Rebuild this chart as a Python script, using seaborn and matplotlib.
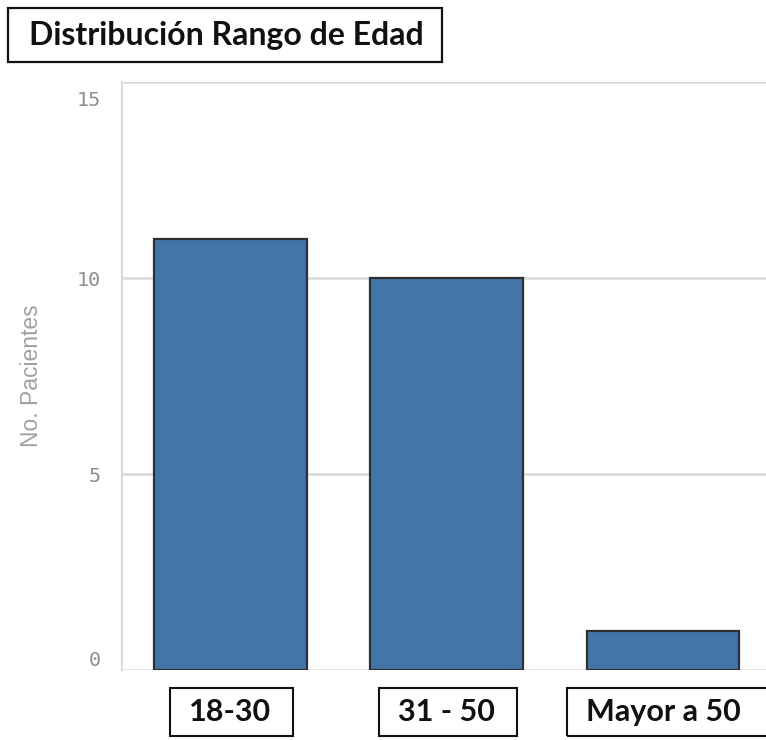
import matplotlib
matplotlib.use("Agg")
import matplotlib.pyplot as plt
import matplotlib.transforms as mtransforms
from matplotlib.patches import Rectangle
import pandas as pd
import seaborn as sns

# Patients per age range
categories = ["18-30", "31 - 50", "Mayor a 50"]
patients = [11, 10, 1]
y_ticks = [0, 5, 10, 15]
title = "Distribución Rango de Edad"
y_label = "No. Pacientes"

df = pd.DataFrame({"rango": categories, "pacientes": patients})

sns.set_style("white")
plt.rcParams["font.family"] = ["Lato", "DejaVu Sans"]

W, H = 766, 740
fig = plt.figure(figsize=(W / 100, H / 100), dpi=100)
ax = fig.add_axes([122 / W, 70 / H, 644 / W, 588 / H])

sns.barplot(data=df, x="rango", y="pacientes", ax=ax, color="#4475a8",
            saturation=1, width=0.705, edgecolor="#2f2f2f", linewidth=1.6,
            zorder=3)

ax.set_xlim(-0.5, 2.475)
ax.set_ylim(0, 15)
ax.set_yticks(y_ticks)
ax.set_yticklabels([str(v) for v in y_ticks])

# light horizontal grid, left frame line only
ax.grid(axis="y", color="#d9d9d9", linewidth=1.8, zorder=0)
for side in ["top", "right", "bottom"]:
    ax.spines[side].set_visible(False)
ax.spines["left"].set_color("#dcdcdc")
ax.spines["left"].set_linewidth(1.6)

ax.tick_params(axis="y", length=10, width=1.8, color="#d9d9d9", pad=5,
               labelsize=14.5, labelcolor="#8f8f8f")
for lab in ax.get_yticklabels():
    lab.set_family(["DejaVu Sans Mono"])
ax.yaxis.get_major_ticks()[-1].tick1line.set_visible(False)

# nudge the outer tick labels inside the plot range
offsets = {0: 12, 15: -16}
for v, lab in zip(y_ticks, ax.get_yticklabels()):
    if v in offsets:
        lab.set_transform(lab.get_transform() + mtransforms.ScaledTranslation(
            0, offsets[v] / 100, fig.dpi_scale_trans))

ax.set_xlabel("")
ax.set_ylabel(y_label, fontsize=16.5, color="#a0a0a0",
              family=["Liberation Sans Narrow", "Liberation Sans"])
ax.yaxis.set_label_coords(-0.122, 0.5)

# category labels, each framed by a box (the last one runs off the edge)
ax.tick_params(axis="x", length=0, pad=20, labelsize=22)
for lab in ax.get_xticklabels():
    lab.set_fontweight("bold")
    lab.set_color("#111111")

fig.canvas.draw()
renderer = fig.canvas.get_renderer()
labels = ax.get_xticklabels()
for i, lab in enumerate(labels):
    bb = lab.get_window_extent(renderer)
    x0, x1 = bb.x0 - 19, bb.x1 + 22
    if i == len(labels) - 1:
        x1 = W + 10
    y_top, y_bot = H - 688, H - 736
    fig.patches.append(Rectangle((x0 / W, y_bot / H), (x1 - x0) / W,
                                 (y_top - y_bot) / H, transform=fig.transFigure,
                                 facecolor="none", edgecolor="#111111",
                                 linewidth=1.5, zorder=5))

# boxed title
fig.patches.append(Rectangle((8 / W, 1 - 62 / H), 434 / W, 54 / H,
                             transform=fig.transFigure, facecolor="white",
                             edgecolor="#111111", linewidth=1.6))
fig.text(226 / W, 1 - 36 / H, title, ha="center", va="center",
         fontsize=23, fontweight="bold", color="#111111")

fig.savefig("out.png", dpi=100, facecolor="white")
